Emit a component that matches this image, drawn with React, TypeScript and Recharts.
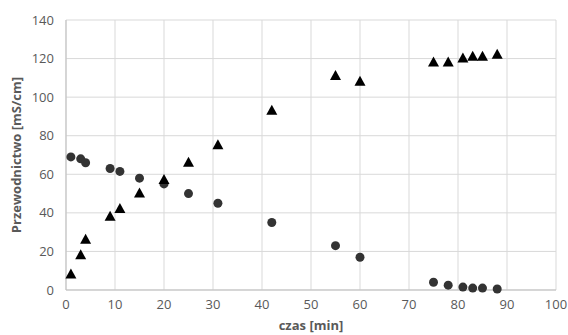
import { ScatterChart, Scatter, XAxis, YAxis, CartesianGrid } from 'recharts'

const circleX = [1, 3, 4, 9, 11, 15, 20, 25, 31, 42, 55, 60, 75, 78, 81, 83, 85, 88]
const circleY = [69, 68, 66, 63, 61.5, 58, 55, 50, 45, 35, 23, 17, 4, 2.5, 1.5, 1, 1, 0.5]
const triangleX = [1, 3, 4, 9, 11, 15, 20, 25, 31, 42, 55, 60, 75, 78, 81, 83, 85, 88]
const triangleY = [8, 18, 26, 38, 42, 50, 57, 66, 75, 93, 111, 108, 118, 118, 120, 121, 121, 122]
const xTicks = [0, 10, 20, 30, 40, 50, 60, 70, 80, 90, 100]
const yTicks = [0, 20, 40, 60, 80, 100, 120, 140]

const circles = circleX.map((x, i) => ({ x, y: circleY[i] }))
const triangles = triangleX.map((x, i) => ({ x, y: triangleY[i] }))

const font = '"Open Sans", "Liberation Sans", sans-serif'
const tickStyle = { fontSize: 13, fill: '#595959', fontFamily: font }

const Dot = (p: any) => <circle cx={p.cx} cy={p.cy} r={4.5} fill="#333333" />
const Tri = (p: any) => (
  <polygon
    points={`${p.cx},${p.cy - 6} ${p.cx - 5.5},${p.cy + 4} ${p.cx + 5.5},${p.cy + 4}`}
    fill="#000000"
  />
)

export default function App() {
  return (
    <div style={{ position: 'absolute', left: 0, top: 0, background: '#fff' }}>
      <ScatterChart width={568} height={335} margin={{ top: 20, right: 12, bottom: 15, left: 6 }}>
        <CartesianGrid stroke="#d9d9d9" />
        <XAxis
          type="number"
          dataKey="x"
          domain={[0, 100]}
          ticks={xTicks}
          tick={tickStyle}
          tickLine={false}
          axisLine={{ stroke: '#bfbfbf' }}
          tickMargin={4}
          height={30}
          label={{ value: 'czas [min]', position: 'insideBottom', offset: -10, style: { fontSize: 13, fontWeight: 'bold', fill: '#595959', fontFamily: font } }}
        />
        <YAxis
          type="number"
          dataKey="y"
          domain={[0, 140]}
          ticks={yTicks}
          width={60}
          tick={tickStyle}
          tickLine={false}
          axisLine={{ stroke: '#bfbfbf' }}
          tickMargin={6}
          label={{ value: 'Przewodnictwo [mS/cm]', angle: -90, position: 'insideLeft', offset: 10, style: { textAnchor: 'middle', fontSize: 13, fontWeight: 'bold', fill: '#595959', fontFamily: font } }}
        />
        <Scatter data={circles} shape={Dot} isAnimationActive={false} />
        <Scatter data={triangles} shape={Tri} isAnimationActive={false} />
      </ScatterChart>
    </div>
  )
}
